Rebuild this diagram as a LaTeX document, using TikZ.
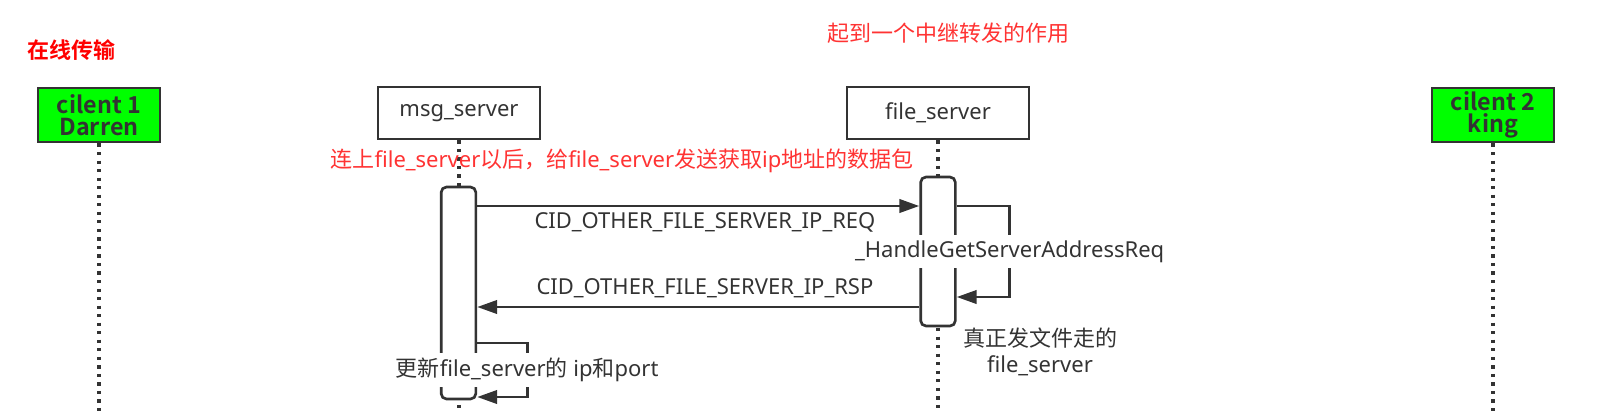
\documentclass[tikz,border=0pt]{standalone}
\usepackage{fontspec}
\setmainfont{Noto Sans}
\newfontfamily\cjk{Noto Sans CJK SC}[BoldFont={Noto Sans CJK SC Bold}]
\usetikzlibrary{arrows.meta}
\definecolor{inkgray}{HTML}{333333}
\definecolor{notered}{HTML}{FF3333}
\definecolor{boxgreen}{HTML}{00FF00}

\begin{document}
\begin{tikzpicture}[x=0.75pt,y=-0.75pt,>={Triangle[length=15pt,width=10pt]},
  text=inkgray,font=\fontsize{16.5}{19}\selectfont,
  client node/.style={rectangle,fill=boxgreen,draw=inkgray,line width=2.2pt,
  font=\fontsize{17.5}{16.5}\selectfont\cjk\bfseries,align=center,
  minimum width=91.5pt,minimum height=40.5pt,inner sep=0pt},
  server node/.style={rectangle,draw=inkgray,line width=2pt,
  minimum height=39pt,inner sep=0pt},
  bar/.style={rectangle,draw=inkgray,fill=white,line width=2pt,
  rounded corners=4pt,minimum width=26pt,inner sep=0pt},
  lifeline/.style={draw=inkgray,line width=2.4pt,dash pattern=on 2.4pt off 4pt},
  msg/.style={->,draw=inkgray,line width=2.2pt},
  note/.style={text=notered},
  over/.style={fill=white,inner xsep=1pt,inner ysep=4pt}]

  \useasboundingbox (0,0) rectangle (1623,411);

  \node[client node] (C1) at (99,115) {cilent 1\\Darren};
  \node[server node,minimum width=121.5pt] (MS) at (459,113) {msg\_server};
  \node[server node,minimum width=136.5pt] (FS) at (938,113) {file\_server};
  \node[client node] (C2) at (1493,115) {cilent 2\\king};

  \coordinate (bottom) at (0,411);
  \coordinate (req) at (0,206);
  \coordinate (fret) at (0,297);
  \coordinate (rsp) at (0,307);
  \coordinate (upd) at (0,343);
  \coordinate (updret) at (0,397);

  %Lifelines below every participant
  \draw[lifeline] (C1.south) -- (C1.south |- bottom);
  \draw[lifeline] (MS.south) -- (MS.south |- bottom);
  \draw[lifeline] (FS.south) -- (FS.south |- bottom);
  \draw[lifeline] (C2.south) -- (C2.south |- bottom);

  \node[bar,minimum height=159pt] (MB) at (458.5,293) {};
  \node[bar,minimum height=111.75pt] (FB) at (938,251.5) {};

  %Shows request and reply between msg_server and file_server
  \draw[msg] (MB.east |- req) -- node[below=3pt,xshift=5pt,inner sep=1pt]
    {CID\_OTHER\_FILE\_SERVER\_IP\_REQ} (FB.west |- req);
  \draw[msg] (FB.west |- rsp) -- node[above=5pt,xshift=5pt,inner sep=1pt]
    {CID\_OTHER\_FILE\_SERVER\_IP\_RSP} (MB.east |- rsp);

  %Self calls
  \draw[msg] (FB.east |- req) -- ++(53,0) |- node[pos=0.25,over]
    {\_HandleGetServerAddressReq} (FB.east |- fret);
  \draw[msg] (MB.east |- upd) -- ++(50,0) |- node[pos=0.25,over]
    {{\cjk 更新}file\_server{\cjk 的} ip{\cjk 和}port} (MB.east |- updret);

  %Notes
  \node[text=red,anchor=west] (title) at (23,50) {\cjk\bfseries 在线传输};
  \node[note] (relay) at (948,33) {\cjk 起到一个中继转发的作用};
  \node[note] (fetch) at (622,161)
    {{\cjk 连上}file\_server{\cjk 以后，给}file\_server{\cjk 发送获取}ip{\cjk 地址的数据包}};
  \node[align=center] (realfs) at (1040,352) {{\cjk 真正发文件走的}\\file\_server};

\end{tikzpicture}
\end{document}
